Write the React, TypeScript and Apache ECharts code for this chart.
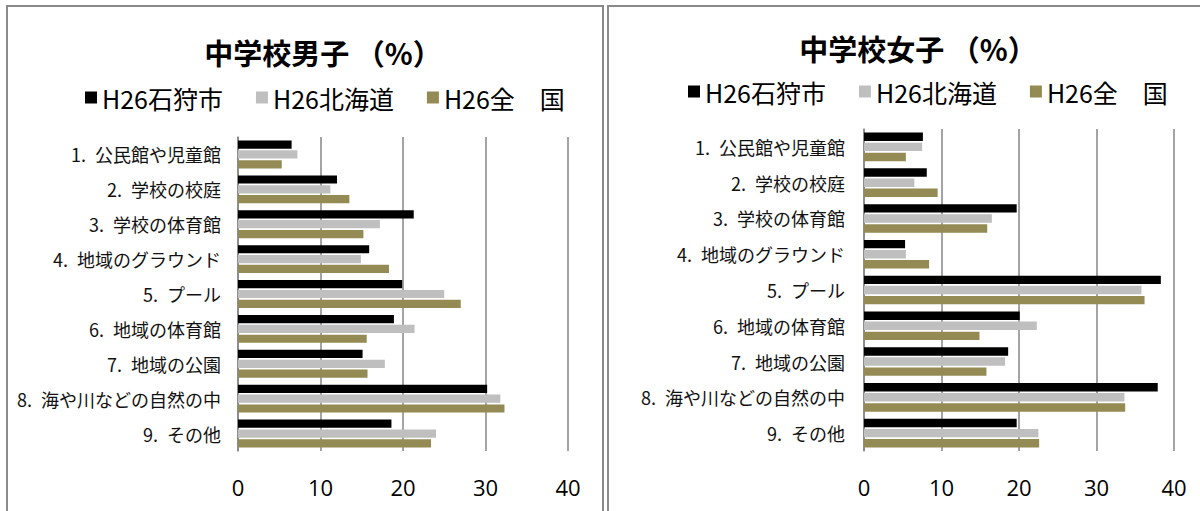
import React, { useEffect, useRef } from "react";
import * as echarts from "echarts";

const categories = [
  "1.\u2002公民館や児童館",
  "2.\u2002学校の校庭",
  "3.\u2002学校の体育館",
  "4.\u2002地域のグラウンド",
  "5.\u2002プール",
  "6.\u2002地域の体育館",
  "7.\u2002地域の公園",
  "8.\u2002海や川などの自然の中",
  "9.\u2002その他",
];

const seriesNames = ["H26石狩市", "H26北海道", "H26全　国"];

const boysIshikari = [6.5, 12.0, 21.3, 15.9, 19.9, 18.9, 15.1, 30.2, 18.6];
const boysHokkaido = [7.2, 11.2, 17.2, 14.9, 25.0, 21.4, 17.8, 31.8, 24.0];
const boysNational = [5.3, 13.5, 15.2, 18.3, 27.0, 15.6, 15.7, 32.3, 23.4];

const girlsIshikari = [7.6, 8.1, 19.7, 5.3, 38.3, 20.1, 18.6, 37.9, 19.7];
const girlsHokkaido = [7.5, 6.5, 16.5, 5.4, 35.8, 22.3, 18.2, 33.6, 22.5];
const girlsNational = [5.4, 9.5, 15.9, 8.4, 36.2, 14.9, 15.8, 33.7, 22.6];

const xTicks = [0, 10, 20, 30, 40];

const colors = ["#000000", "#BFBFBF", "#948A54"];

const JP = '"Noto Sans CJK JP", "Noto Sans", sans-serif';

export default function App() {
  const ref = useRef<HTMLDivElement>(null);

  useEffect(() => {
    if (!ref.current) return;
    const chart = echarts.init(ref.current, null, { renderer: "svg" });

    const xAxisBase = (gridIndex: number) => ({
      type: "value" as const,
      gridIndex,
      min: xTicks[0],
      max: xTicks[xTicks.length - 1],
      interval: xTicks[1] - xTicks[0],
      axisLine: { show: false },
      axisTick: { show: false },
      splitLine: { show: true, lineStyle: { color: "#868686", width: 1.5 } },
      axisLabel: { fontSize: 22, color: "#000", margin: 25, fontFamily: '"Open Sans", sans-serif' },
    });

    const yAxisBase = (gridIndex: number, margin: number) => ({
      type: "category" as const,
      gridIndex,
      inverse: true,
      data: categories,
      axisLine: { show: true, lineStyle: { color: "#868686", width: 1.5 } },
      axisTick: { show: false },
      axisLabel: { fontSize: 18, color: "#111", margin, fontFamily: JP },
    });

    const mk = (name: string, data: number[], idx: number, axis: number) => ({
      name,
      type: "bar" as const,
      xAxisIndex: axis,
      yAxisIndex: axis,
      data,
      barGap: "20%",
      barCategoryGap: "20%",
      itemStyle: { color: colors[idx] },
    });

    const legendBase = (left: number, top: number) => ({
      left,
      top,
      icon: "rect",
      itemWidth: 12,
      itemHeight: 12,
      itemGap: 33,
      selectedMode: false,
      data: seriesNames,
      textStyle: { fontSize: 25, color: "#000", fontFamily: JP },
    });

    chart.setOption({
      animation: false,
      backgroundColor: "#ffffff",
      title: [
        {
          text: "中学校男子 （%）",
          left: 318,
          top: 32,
          textAlign: "center",
          textStyle: { fontSize: 29, fontWeight: "bold", color: "#000", fontFamily: JP },
        },
        {
          text: "中学校女子 （%）",
          left: 913,
          top: 28,
          textAlign: "center",
          textStyle: { fontSize: 29, fontWeight: "bold", color: "#000", fontFamily: JP },
        },
      ],
      legend: [legendBase(80, 80), legendBase(683, 74)],
      grid: [
        { left: 238, top: 137, width: 330, height: 314 },
        { left: 864, top: 129, width: 310, height: 322 },
      ],
      xAxis: [xAxisBase(0), xAxisBase(1)],
      yAxis: [yAxisBase(0, 17), yAxisBase(1, 19)],
      series: [
        mk(seriesNames[0], boysIshikari, 0, 0),
        mk(seriesNames[1], boysHokkaido, 1, 0),
        mk(seriesNames[2], boysNational, 2, 0),
        mk(seriesNames[0], girlsIshikari, 0, 1),
        mk(seriesNames[1], girlsHokkaido, 1, 1),
        mk(seriesNames[2], girlsNational, 2, 1),
      ],
      graphic: [
        {
          type: "rect",
          shape: { x: 7, y: 6, width: 596, height: 530 },
          style: { fill: "none", stroke: "#8a8a8a", lineWidth: 2 },
          silent: true,
        },
        {
          type: "rect",
          shape: { x: 608, y: 6, width: 620, height: 530 },
          style: { fill: "none", stroke: "#8a8a8a", lineWidth: 2 },
          silent: true,
        },
      ],
    });

    return () => chart.dispose();
  }, []);

  return (
    <div
      ref={ref}
      style={{ position: "absolute", left: 0, top: 0, width: 1200, height: 511 }}
    />
  );
}
